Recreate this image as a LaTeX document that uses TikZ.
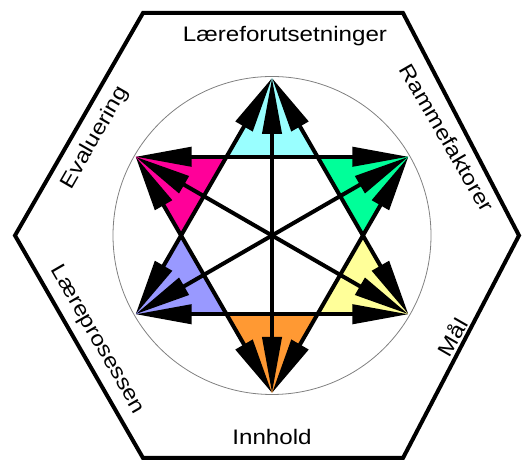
\documentclass[tikz,border=0pt]{standalone}
\usepackage{fontspec}
\setmainfont{Liberation Sans}[FakeStretch=1.15]
\usepackage{xcolor}
\usetikzlibrary{arrows.meta}

\definecolor{ptcyan}{HTML}{99FFFF}
\definecolor{ptgreen}{HTML}{00FF99}
\definecolor{ptyellow}{HTML}{FFFF99}
\definecolor{ptorange}{HTML}{FF9933}
\definecolor{ptlilac}{HTML}{9999FF}
\definecolor{ptpink}{HTML}{FF0099}

\begin{document}
\begin{tikzpicture}[
    x=1pt, y=1pt,
    every node/.style={font=\fontsize{21}{24}\selectfont, inner sep=0pt},
    frame/.style={draw, line width=4pt, line join=miter},
    ring/.style={draw=gray, line width=0.8pt},
    tip/.style={fill=#1},
    arr/.style={{Triangle[length=56pt, width=19pt]}-{Triangle[length=56pt, width=19pt]}, line width=4pt},
]
    \useasboundingbox (0,0) rectangle (522,460);
    \coordinate (c) at (272,224.5);

    \draw[frame] (143,447) -- (403,447) -- (519,224.5) -- (403,2) -- (143,2) -- (15,224.5) -- cycle;
    \draw[ring] (c) circle (159);

    % star points and inner hexagon
    \foreach \a/\n in {90/top, 30/ur, -30/lr, -90/bot, -150/ll, 150/ul}
        \coordinate (\n) at ([shift={(\a:157.5)}]c);
    \foreach \a in {0,60,...,300}
        \coordinate (h\a) at ([shift={(\a:90.9)}]c);

    \fill[tip=ptcyan] (top) -- (h60) -- (h120) -- cycle;
    \fill[tip=ptgreen] (ur) -- (h0) -- (h60) -- cycle;
    \fill[tip=ptyellow] (lr) -- (h0) -- (h300) -- cycle;
    \fill[tip=ptorange] (bot) -- (h240) -- (h300) -- cycle;
    \fill[tip=ptlilac] (ll) -- (h180) -- (h240) -- cycle;
    \fill[tip=ptpink] (ul) -- (h120) -- (h180) -- cycle;

    \draw[arr] (top) -- (lr);
    \draw[arr] (lr) -- (ll);
    \draw[arr] (ll) -- (top);
    \draw[arr] (ul) -- (ur);
    \draw[arr] (ur) -- (bot);
    \draw[arr] (bot) -- (ul);
    \draw[arr] (top) -- (bot);
    \draw[arr] (ur) -- (ll);
    \draw[arr] (lr) -- (ul);

    \node[anchor=base] (forut) at (285,418) {Læreforutsetninger};
    \node[rotate=-60] (ramme) at (447,322) {Rammefaktorer};
    \node[rotate=60] (maal) at (452,123) {Mål};
    \node[anchor=base] (innhold) at (272,15) {Innhold};
    \node[rotate=-60] (prosess) at (97,120) {Læreprosessen};
    \node[rotate=60] (evaluering) at (95,322) {Evaluering};
\end{tikzpicture}
\end{document}
